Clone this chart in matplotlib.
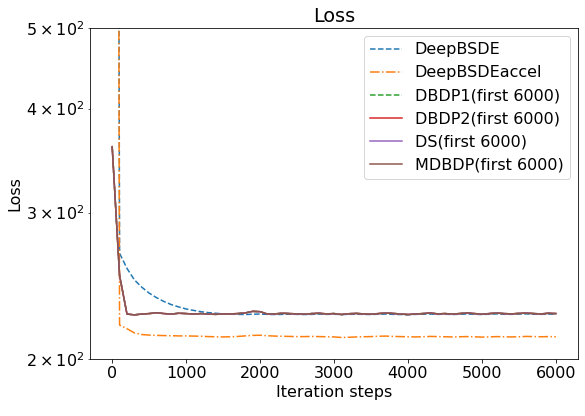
import numpy as np
import matplotlib
matplotlib.use("Agg")
import matplotlib.pyplot as plt

# iteration steps (logged every 100)
steps = list(range(0, 6001, 100))

deepbsde_loss = [
    1.0e6, 268.0, 257.0, 249.0, 244.0, 240.0, 237.0, 234.5, 232.5, 231.0,
    229.7, 228.8, 228.0, 227.4, 227.0, 226.6, 226.4, 226.3, 226.2, 226.4,
    226.5, 226.3, 226.2, 226.3, 226.4, 226.3, 226.2, 226.3, 226.5, 226.3,
    226.4, 226.2, 226.3, 226.4, 226.3, 226.2, 226.4, 226.5, 226.3, 226.2,
    226.1, 226.3, 226.4, 226.5, 226.3, 226.4, 226.2, 226.4, 226.5, 226.4,
    226.2, 226.4, 226.6, 226.4, 226.3, 226.5, 226.6, 226.4, 226.3, 226.5,
    226.4,
]

deepbsde_accel_loss = [
    1.0e6, 219.7, 217.5, 215.0, 214.0, 213.7, 213.5, 213.4, 213.3, 213.2,
    213.2, 213.1, 213.0, 212.8, 212.7, 212.6, 212.7, 212.9, 213.2, 213.5,
    213.6, 213.3, 213.1, 213.0, 212.9, 212.8, 212.8, 212.9, 212.8, 212.7,
    212.6, 212.3, 212.4, 212.6, 212.7, 212.8, 213.0, 213.1, 212.9, 212.8,
    212.7, 212.6, 212.7, 212.9, 212.8, 212.7, 212.6, 212.7, 212.8, 212.7,
    212.5, 212.6, 212.8, 212.7, 212.6, 212.7, 212.9, 212.8, 212.7, 212.8,
    212.7,
]

mdbdp_loss = [
    360.0, 252.0, 226.5, 226.0, 226.5, 226.8, 227.3, 226.8, 226.5, 227.0,
    226.8, 226.5, 226.8, 226.5, 226.3, 226.6, 226.6, 226.8, 227.2, 228.2,
    228.0, 226.5, 226.6, 227.0, 226.8, 226.6, 226.4, 226.8, 227.0, 226.6,
    226.8, 226.2, 226.7, 226.9, 226.6, 226.4, 226.8, 227.1, 226.9, 226.5,
    226.2, 226.5, 226.8, 227.2, 226.6, 226.8, 226.5, 226.8, 227.2, 226.8,
    226.4, 226.8, 227.1, 226.8, 226.6, 226.9, 227.1, 226.8, 226.6, 227.0,
    226.8,
]
# the DBDP variants overlap the MDBDP curve
dbdp1_loss = list(mdbdp_loss)
dbdp2_loss = list(mdbdp_loss)
ds_loss = list(mdbdp_loss)

y_ticks = [200, 300, 400, 500]

plt.rcParams['font.size'] = 16

fig = plt.figure(figsize=(585 / 72, 416 / 72), dpi=72)
ax = fig.add_axes([90 / 585, 1 - 359 / 416, 488 / 585, 331 / 416])

ax.plot(steps, deepbsde_loss, '--', label='DeepBSDE')
ax.plot(steps, deepbsde_accel_loss, '-.', label='DeepBSDEaccel')
ax.plot(steps, dbdp1_loss, '--', label='DBDP1(first 6000)')
ax.plot(steps, dbdp2_loss, '-', label='DBDP2(first 6000)')
ax.plot(steps, ds_loss, '-', label='DS(first 6000)')
ax.plot(steps, mdbdp_loss, '-', label='MDBDP(first 6000)')

ax.set_yscale('log')
ax.set_ylim(200, 500)
ax.set_xlim(-300, 6300)
ax.set_xlabel('Iteration steps')
ax.set_ylabel('Loss')
ax.set_title('Loss')
ax.legend(loc='upper right')

fig.savefig('out.png', dpi=72)
